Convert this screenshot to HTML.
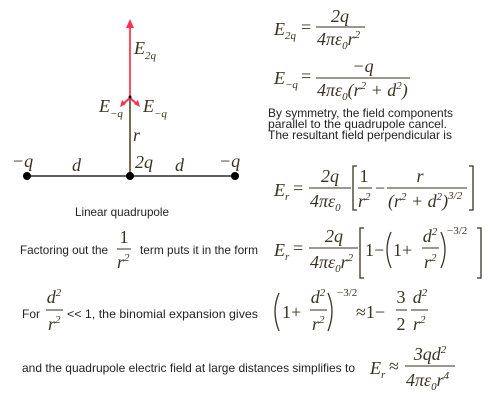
<!DOCTYPE html>
<html><head><meta charset="utf-8"><style>
html,body{margin:0;padding:0;background:#fff;}
svg{display:block;}
.m{font-family:"Liberation Serif",serif;font-style:italic;fill:#3a3222;font-size:18px;}
.n{font-family:"Liberation Serif",serif;fill:#3a3222;font-size:18px;}
.s{font-family:"Liberation Sans",sans-serif;fill:#222;font-size:12px;}
.sub{font-size:11px;}
.sup{font-size:11px;}
.fl{stroke:#3a3222;stroke-width:1;}
.br{fill:none;stroke:#3a3222;stroke-width:1.3;}
</style></head><body>
<svg width="493" height="402" viewBox="0 0 493 402">
<g>
<line x1="27" y1="176" x2="235" y2="176" stroke="#000" stroke-width="1.2"/>
<line x1="130" y1="98" x2="130" y2="176" stroke="#7a6a50" stroke-width="2"/>
<line x1="130" y1="97" x2="130" y2="26" stroke="#ff5060" stroke-width="2"/>
<polygon points="130,19 126,28 134,28" fill="#ff3050"/>
<line x1="130" y1="98" x2="123" y2="104" stroke="#ff3050" stroke-width="2"/>
<line x1="130" y1="98" x2="137" y2="104" stroke="#ff3050" stroke-width="2"/>
<polygon points="120,107 122,100 126,104" fill="#ff3050"/>
<polygon points="140,107 138,100 134,104" fill="#ff3050"/>
<circle cx="130" cy="97" r="1.5" fill="#000"/>
<circle cx="27" cy="176" r="4" fill="#000"/>
<circle cx="130" cy="176" r="4" fill="#000"/>
<circle cx="235" cy="176" r="4" fill="#000"/>
<text class="m" x="12" y="167">−q</text>
<text class="m" x="72" y="171">d</text>
<text class="m" x="135" y="168">2q</text>
<text class="m" x="175" y="171">d</text>
<text class="m" x="219" y="167">−q</text>
<text class="m" x="133" y="141">r</text>
<text class="m" x="134" y="54">E<tspan class="sub" dy="5">2q</tspan></text>
<text class="m" x="99" y="112">E<tspan class="sub" dy="5">−q</tspan></text>
<text class="m" x="143" y="112">E<tspan class="sub" dy="5">−q</tspan></text>
<text class="s" x="75" y="216" textLength="94" lengthAdjust="spacingAndGlyphs">Linear quadrupole</text>
</g>
<g>
<text class="m" x="274" y="35">E<tspan class="sub" dy="4">2q</tspan></text>
<text class="n" x="301" y="33">=</text>
<text class="m" x="340" y="22" text-anchor="middle">2q</text>
<line class="fl" x1="316" y1="27" x2="365" y2="27"/>
<text class="m" x="317" y="45">4πε<tspan class="sub" dy="4">0</tspan><tspan dy="-4">r</tspan><tspan class="sup" dy="-7">2</tspan></text>
</g>
<g>
<text class="m" x="274" y="84">E<tspan class="sub" dy="4">−q</tspan></text>
<text class="n" x="301" y="82">=</text>
<text class="m" x="363" y="72" text-anchor="middle">−q</text>
<line class="fl" x1="316" y1="78" x2="410" y2="78"/>
<text class="m" x="317" y="96">4πε<tspan class="sub" dy="4">0</tspan><tspan dy="-4">(r</tspan><tspan class="sup" dy="-7">2</tspan><tspan dy="7"> + d</tspan><tspan class="sup" dy="-7">2</tspan><tspan dy="7">)</tspan></text>
</g>
<text class="s" x="268" y="117" textLength="185" lengthAdjust="spacingAndGlyphs">By symmetry, the field components</text>
<text class="s" x="268" y="128" textLength="179" lengthAdjust="spacingAndGlyphs">parallel to the quadrupole cancel.</text>
<text class="s" x="268" y="139" textLength="184" lengthAdjust="spacingAndGlyphs">The resultant field perpendicular is</text>
<g>
<text class="m" x="274" y="196">E<tspan class="sub" dy="4">r</tspan></text>
<text class="n" x="293" y="194">=</text>
<text class="m" x="330" y="182" text-anchor="middle">2q</text>
<line class="fl" x1="309" y1="188" x2="351" y2="188"/>
<text class="m" x="310" y="207">4πε<tspan class="sub" dy="4">0</tspan></text>
<path class="br" d="M357,166 H353 V210 H357"/>
<text class="n" x="364" y="182" text-anchor="middle">1</text>
<line class="fl" x1="358" y1="188" x2="372" y2="188"/>
<text class="m" x="358" y="207">r<tspan class="sup" dy="-7">2</tspan></text>
<text class="n" x="375" y="194">−</text>
<text class="m" x="420" y="182" text-anchor="middle">r</text>
<line class="fl" x1="387" y1="188" x2="467" y2="188"/>
<text class="m" x="388" y="207">(r<tspan class="sup" dy="-7">2</tspan><tspan dy="7"> + d</tspan><tspan class="sup" dy="-7">2</tspan><tspan dy="7">)</tspan><tspan class="sup" dy="-8">3/2</tspan></text>
<path class="br" d="M469,166 H473 V210 H469"/>
</g>
<text class="s" x="20" y="254" textLength="88" lengthAdjust="spacingAndGlyphs">Factoring out the</text>
<text class="n" x="124" y="243" text-anchor="middle">1</text>
<line class="fl" x1="117" y1="249" x2="131" y2="249"/>
<text class="m" x="117" y="268">r<tspan class="sup" dy="-7">2</tspan></text>
<text class="s" x="140" y="254" textLength="118" lengthAdjust="spacingAndGlyphs">term puts it in the form</text>
<g>
<text class="m" x="274" y="256">E<tspan class="sub" dy="4">r</tspan></text>
<text class="n" x="293" y="254">=</text>
<text class="m" x="334" y="242" text-anchor="middle">2q</text>
<line class="fl" x1="309" y1="248" x2="358" y2="248"/>
<text class="m" x="310" y="268">4πε<tspan class="sub" dy="4">0</tspan><tspan dy="-4">r</tspan><tspan class="sup" dy="-7">2</tspan></text>
<path class="br" d="M364,228 H360 V278 H364"/>
<text class="n" x="365" y="256">1−</text>
<path class="br" d="M391,232 Q383,250 391,268"/>
<text class="n" x="393" y="256">1+</text>
<text class="m" x="430" y="242" text-anchor="middle">d<tspan class="sup" dy="-7">2</tspan></text>
<line class="fl" x1="422" y1="248" x2="439" y2="248"/>
<text class="m" x="424" y="268">r<tspan class="sup" dy="-7">2</tspan></text>
<path class="br" d="M441,232 Q449,250 441,268"/>
<text class="n sup" x="447" y="234">−3/2</text>
<path class="br" d="M477,228 H481 V278 H477"/>
</g>
<text class="s" x="22" y="318" textLength="18" lengthAdjust="spacingAndGlyphs">For</text>
<text class="m" x="54" y="303" text-anchor="middle">d<tspan class="sup" dy="-7">2</tspan></text>
<line class="fl" x1="46" y1="310" x2="63" y2="310"/>
<text class="m" x="48" y="330">r<tspan class="sup" dy="-7">2</tspan></text>
<text class="s" x="67" y="318" textLength="191" lengthAdjust="spacingAndGlyphs">&lt;&lt; 1, the binomial expansion gives</text>
<g>
<path class="br" d="M279,293 Q271,311 279,331"/>
<text class="n" x="282" y="318">1+</text>
<text class="m" x="318" y="303" text-anchor="middle">d<tspan class="sup" dy="-7">2</tspan></text>
<line class="fl" x1="310" y1="310" x2="327" y2="310"/>
<text class="m" x="312" y="330">r<tspan class="sup" dy="-7">2</tspan></text>
<path class="br" d="M328,293 Q336,311 328,331"/>
<text class="n sup" x="337" y="296">−3/2</text>
<text class="n" x="356" y="318">≈1−</text>
<text class="n" x="401" y="303" text-anchor="middle">3</text>
<line class="fl" x1="396" y1="310" x2="407" y2="310"/>
<text class="n" x="401" y="330" text-anchor="middle">2</text>
<text class="m" x="420" y="303" text-anchor="middle">d<tspan class="sup" dy="-7">2</tspan></text>
<line class="fl" x1="411" y1="310" x2="428" y2="310"/>
<text class="m" x="413" y="330">r<tspan class="sup" dy="-7">2</tspan></text>
</g>
<text class="s" x="22" y="372" textLength="333" lengthAdjust="spacingAndGlyphs">and the quadrupole electric field at large distances simplifies to</text>
<g>
<text class="m" x="370" y="374">E<tspan class="sub" dy="4">r</tspan></text>
<text class="n" x="389" y="372">≈</text>
<text class="m" x="430" y="360" text-anchor="middle">3qd<tspan class="sup" dy="-7">2</tspan></text>
<line class="fl" x1="405" y1="366" x2="455" y2="366"/>
<text class="m" x="406" y="386">4πε<tspan class="sub" dy="4">0</tspan><tspan dy="-4">r</tspan><tspan class="sup" dy="-7">4</tspan></text>
</g>
</svg>
</body></html>
